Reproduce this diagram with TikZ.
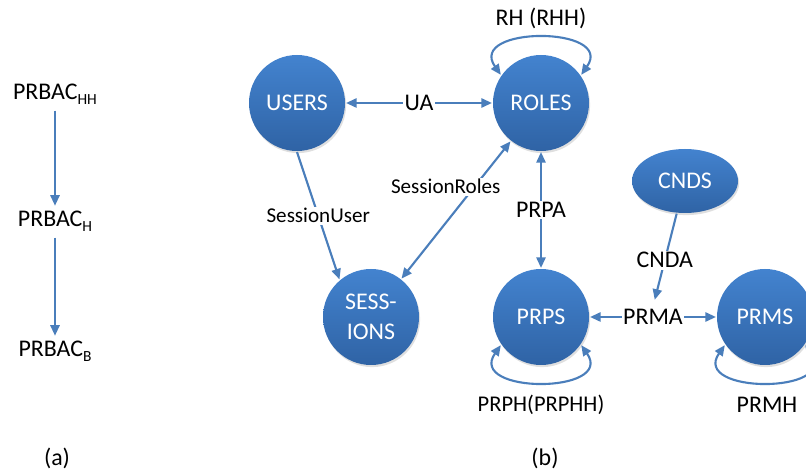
\documentclass[tikz,border=0pt]{standalone}
\usepackage{fontspec}
\setmainfont{Carlito}
\usetikzlibrary{arrows.meta,shadows,shapes.geometric}
\definecolor{linkblue}{HTML}{4A7EBB}
\definecolor{topblue}{HTML}{4383CF}
\definecolor{botblue}{HTML}{2F63A5}
\newcommand{\lowsub}[1]{\raisebox{-3.5pt}{\fontsize{11}{11}\selectfont #1}}

\begin{document}
\begin{tikzpicture}[
    line width=1.5pt, >={Triangle[length=7.5pt,width=6.5pt]},
    color=linkblue,
    big/.style={font=\fontsize{17}{21}\selectfont, text=black},
    lbl/.style={fill=white, inner sep=1.2pt, text=black, font=\fontsize{17}{21}\selectfont},
    slbl/.style={lbl, font=\fontsize{15}{18}\selectfont},
    entity/.style={circle, minimum size=2.4cm, inner sep=0pt, align=center,
      top color=topblue, bottom color=botblue, text=white,
      font=\fontsize{17}{21}\selectfont,
      drop shadow={opacity=0.25, shadow xshift=0.8pt, shadow yshift=-1.5pt}}
  ]
  \useasboundingbox (0,0) rectangle (20.15,11.775);

  % (a)
  \begin{scope}
    \node[big, anchor=base] (hh) at (1.375,9.275) {PRBAC\lowsub{HH}};
    \node[big, anchor=base] (h) at (1.375,6.1) {PRBAC\lowsub{H}};
    \node[big, anchor=base] (b) at (1.375,2.85) {PRBAC\lowsub{B}};
    \draw[->] (hh) -- (h);
    \draw[->] (h) -- (b);
    \node[big] (capa) at (1.425,0.325) {(a)};
  \end{scope}

  % (b)
  \begin{scope}
    \node[entity] (users) at (7.425,9.2) {USERS};
    \node[entity] (roles) at (13.525,9.2) {ROLES};
    \node[entity] (sessions) at (9.275,3.85) {SESS-\\IONS};
    \node[entity] (prps) at (13.525,3.85) {PRPS};
    \node[entity] (prms) at (19.125,3.85) {PRMS};
    \node[entity, ellipse, minimum width=2.65cm, minimum height=1.6cm] (cnds) at (17.125,7.25) {CNDS};

    \draw[<->] (users) -- (roles) node[lbl, midway] (ua) {UA};
    \draw[->] (users.south) -- (sessions.130) node[slbl, midway] (su) {SessionUser};
    \draw[<->] (sessions) -- (roles) node[slbl, pos=0.67, xshift=-0.72cm] (sr) {SessionRoles};
    \draw[<->] (roles) -- (prps) node[lbl, midway] (prpa) {PRPA};
    \draw[<->] (prps) -- (prms) node[lbl, midway] (prma) {PRMA};
    \draw[->, shorten >=5pt] (cnds) -- (prma.north) node[lbl, midway] (cnda) {CNDA};

    \draw[<->] (roles.145) .. controls +(125:1.5) and +(55:1.5) .. (roles.35);
    \draw[<->] (prps.215) .. controls +(235:1.5) and +(305:1.5) .. (prps.325);
    \draw[<->] (prms.215) .. controls +(235:1.5) and +(305:1.5) .. (prms.325);
    \node[lbl] (rh) at (13.525,11.325) {RH (RHH)};
    \node[lbl, font=\fontsize{16}{19}\selectfont] (prph) at (13.525,1.65) {PRPH(PRPHH)};
    \node[lbl] (prmh) at (19.175,1.65) {PRMH};

    \node[big] (capb) at (13.625,0.325) {(b)};
  \end{scope}
\end{tikzpicture}
\end{document}
